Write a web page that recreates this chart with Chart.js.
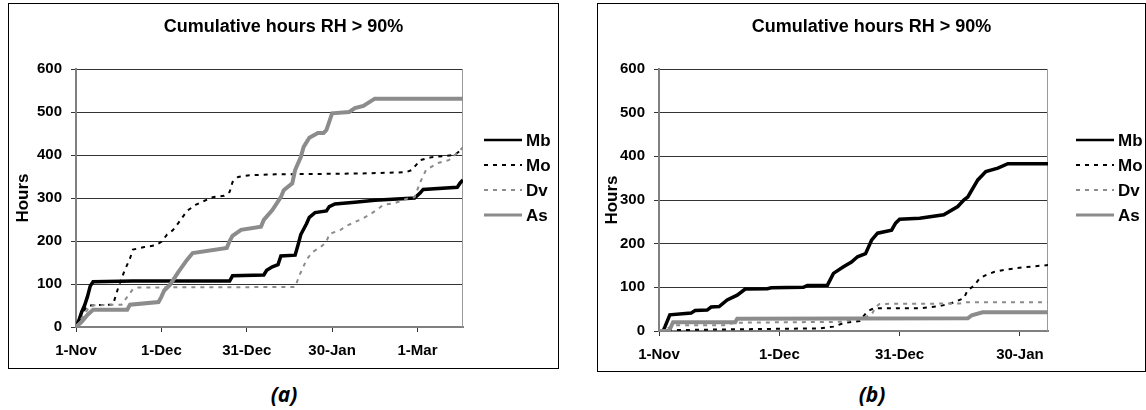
<!DOCTYPE html>
<html>
<head>
<meta charset="utf-8">
<script src="https://cdn.jsdelivr.net/npm/chart.js@4.4.1/dist/chart.umd.min.js"></script>
<style>
  body { margin: 0; background: #fff; width: 1146px; height: 410px; position: relative; overflow: hidden; }
  .frame { position: absolute; border: 1px solid #000; box-sizing: border-box; }
  #fa { left: 8px; top: 3px; width: 551px; height: 366px; }
  #fb { left: 597px; top: 3px; width: 549px; height: 369px; }
  .frame canvas { display: block; }
  .cap { position: absolute; top: 380px; width: 100px; text-align: center;
         font: italic bold 21px "Open Sans", "DejaVu Sans", sans-serif; color: #000; }
</style>
</head>
<body>
<div class="frame" id="fa"><canvas id="chartA" width="549" height="364"></canvas></div>
<div class="frame" id="fb"><canvas id="chartB" width="547" height="367"></canvas></div>
<div class="cap" style="left:234px">(a)</div>
<div class="cap" style="left:822px">(b)</div>
<script>
// ---- axis labels ----
var titleText = 'Cumulative hours RH > 90%';
var seriesNames = ['Mb', 'Mo', 'Dv', 'As'];
var tickDaysA = [0, 30, 60, 90, 120];
var tickLabelsA = ['1-Nov', '1-Dec', '31-Dec', '30-Jan', '1-Mar'];
var tickDaysB = [0, 30, 60, 90];
var tickLabelsB = ['1-Nov', '1-Dec', '31-Dec', '30-Jan'];

// ---- chart (a): days since 1-Nov / cumulative hours ----
var mbDaysA  = [0, 1, 2, 3, 4, 5, 6, 20, 54, 55, 66, 67, 69, 71, 72, 77, 78, 79, 81, 82, 84, 88, 89, 91, 98, 105, 119, 121, 122, 134, 135, 136];
var mbHoursA = [0, 15, 35, 50, 70, 95, 105, 107, 107, 119, 121, 132, 140, 145, 165, 167, 190, 215, 240, 255, 266, 270, 280, 286, 290, 295, 300, 312, 320, 325, 335, 342];

var moDaysA  = [0, 2, 4, 13, 15, 17, 19, 20, 24, 28, 30, 32, 34, 36, 39, 42, 45, 48, 52, 54, 55, 57, 61, 70, 100, 116, 118, 121, 125, 133, 135, 136];
var moHoursA = [0, 30, 50, 52, 95, 130, 160, 180, 186, 190, 198, 215, 225, 242, 270, 284, 293, 302, 305, 314, 337, 349, 353, 355, 357, 360, 365, 388, 395, 400, 410, 412];

var dvDaysA  = [0, 3, 5, 16, 18, 20, 22, 77, 78.5, 81, 83, 86, 88, 89, 93, 95, 98, 101, 104, 106, 108, 112, 117, 119, 121, 123, 127, 131, 134, 136];
var dvHoursA = [0, 30, 50, 52, 70, 88, 92, 93, 120, 156, 174, 186, 198, 216, 226, 235, 244, 253, 265, 274, 284, 288, 300, 302, 337, 365, 381, 388, 405, 418];

var asDaysA  = [0, 2, 4, 6, 18, 19, 29, 30, 31, 33, 36, 39, 41, 53, 54, 55, 58, 65, 66, 69, 72, 73, 76, 77, 79, 80, 82, 85, 87, 88, 90, 96, 98, 101, 105, 136];
var asHoursA = [0, 12, 28, 40, 40, 52, 58, 70, 85, 98, 128, 156, 172, 184, 200, 212, 226, 233, 249, 272, 302, 318, 334, 365, 395, 419, 440, 451, 451, 458, 497, 500, 509, 514, 531, 531];

// ---- chart (b) ----
var mbDaysB  = [0, 1, 1.5, 2.7, 8, 9, 12, 13, 15, 17, 19.5, 21.5, 27, 28, 36, 37, 42, 43.5, 46, 48, 49.5, 51.5, 53, 54.5, 58, 59, 60, 65, 71, 74.5, 76, 77, 79.5, 81.5, 84.5, 87, 97];
var mbHoursB = [0, 0, 10, 37, 41, 47, 48, 55, 56, 71, 82, 96, 97, 99, 100, 104, 105, 132, 147, 158, 170, 177, 208, 224, 231, 247, 256, 258, 266, 285, 300, 307, 346, 365, 373, 383, 383];

var moDaysB  = [0, 3, 20, 40, 43.5, 46, 50, 52, 53.5, 65, 70, 73, 76, 77, 78.5, 80, 81.5, 83.5, 86, 91, 97];
var moHoursB = [0, 2, 4, 6, 10, 18, 23, 45, 52, 52, 57, 64, 75, 94, 103, 121, 128, 135, 140, 146, 151];

var dvDaysB  = [0, 2, 4.5, 16, 19, 45, 50, 53, 54, 55, 75, 76.5, 97];
var dvHoursB = [0, 6, 13, 13, 19, 21, 28, 37, 55, 62, 63, 66, 66];

var asDaysB  = [0, 2.5, 3.5, 19, 19.5, 77, 78, 80.7, 97];
var asHoursB = [0, 0, 20, 20, 28, 29, 36, 43, 43];

function pts(days, hours) {
  return days.map(function(d, i) { return { x: d, y: hours[i] }; });
}

// title, legend and right plot edge
var decor = {
  id: 'decor',
  beforeDatasetsDraw: function(chart) {
    var a = chart.chartArea, ctx = chart.ctx;
    ctx.save();
    ctx.strokeStyle = '#9a9a9a';
    ctx.lineWidth = 1;
    ctx.beginPath();
    ctx.moveTo(a.right - 0.5, a.top);
    ctx.lineTo(a.right - 0.5, a.bottom);
    ctx.stroke();
    ctx.restore();
  },
  afterDraw: function(chart, args, o) {
    var a = chart.chartArea, ctx = chart.ctx;
    ctx.save();
    ctx.fillStyle = '#000';
    ctx.font = 'bold 18px "Liberation Sans"';
    ctx.textAlign = 'center';
    ctx.textBaseline = 'middle';
    ctx.fillText(o.text, chart.width / 2, o.titleY);

    ctx.font = 'bold 17px "Liberation Sans"';
    ctx.textAlign = 'left';
    chart.data.datasets.forEach(function(ds, i) {
      var y = a.top + o.legendTop + i * o.legendStep;
      var x0 = a.right + o.legendX;
      ctx.save();
      ctx.strokeStyle = ds.borderColor;
      ctx.lineWidth = ds.legendWidth;
      ctx.setLineDash(ds.borderDash || []);
      ctx.beginPath();
      ctx.moveTo(x0, y);
      ctx.lineTo(x0 + 38, y);
      ctx.stroke();
      ctx.restore();
      ctx.fillText(ds.label, x0 + 42, y + 1);
    });
    ctx.restore();
  }
};

function makeChart(id, s, ax) {
  var gray = '#8c8c8c';
  var tickFont = { family: 'Liberation Sans', size: 15, weight: 'bold' };
  new Chart(document.getElementById(id).getContext('2d'), {
    type: 'line',
    data: {
      datasets: [{
        label: seriesNames[0], data: s[0], borderColor: '#000', borderWidth: 3.5, legendWidth: 2.5, order: 4
      }, {
        label: seriesNames[1], data: s[1], borderColor: '#000', borderWidth: 2, borderDash: [4, 5], legendWidth: 2, order: 3
      }, {
        label: seriesNames[2], data: s[2], borderColor: gray, borderWidth: 2, borderDash: [4, 5], legendWidth: 2, order: 2
      }, {
        label: seriesNames[3], data: s[3], borderColor: gray, borderWidth: 4, legendWidth: 3, order: 1
      }]
    },
    options: {
      responsive: false,
      animation: false,
      layout: { padding: { top: 65, right: ax.padRight, bottom: 0, left: 0 } },
      elements: { point: { radius: 0 }, line: { tension: 0, fill: false } },
      plugins: {
        legend: { display: false },
        tooltip: { enabled: false },
        decor: { text: titleText, titleY: 23, legendX: ax.legendX, legendTop: 71, legendStep: 25 }
      },
      scales: {
        x: {
          type: 'linear', min: 0, max: ax.maxDay,
          afterFit: function(sc) { sc.height = ax.xHeight; },
          afterBuildTicks: function(sc) { sc.ticks = ax.tickDays.map(function(v) { return { value: v }; }); },
          grid: { drawOnChartArea: false, tickLength: 5, color: '#333', lineWidth: 1 },
          border: { color: '#808080', width: 2 },
          ticks: {
            font: tickFont, color: '#000', padding: 10, maxRotation: 0, autoSkip: false,
            callback: function(v) { var i = ax.tickDays.indexOf(v); return i < 0 ? '' : ax.tickLabels[i]; }
          }
        },
        y: {
          min: 0, max: 600,
          afterFit: function(sc) { sc.width = ax.yWidth; },
          grid: { color: '#333', lineWidth: 1, tickLength: 5 },
          border: { color: '#808080', width: 2 },
          ticks: { stepSize: 100, font: tickFont, color: '#000', padding: 9 },
          title: {
            display: true, text: 'Hours', color: '#000',
            font: { family: 'Liberation Sans', size: 17, weight: 'bold' },
            padding: { top: 4, bottom: 0 }
          }
        }
      }
    },
    plugins: [decor]
  });
}

makeChart('chartA',
  [pts(mbDaysA, mbHoursA), pts(moDaysA, moHoursA), pts(dvDaysA, dvHoursA), pts(asDaysA, asHoursA)],
  { maxDay: 136, tickDays: tickDaysA, tickLabels: tickLabelsA, padRight: 95, xHeight: 41, yWidth: 67, legendX: 21 });

makeChart('chartB',
  [pts(mbDaysB, mbHoursB), pts(moDaysB, moHoursB), pts(dvDaysB, dvHoursB), pts(asDaysB, asHoursB)],
  { maxDay: 97, tickDays: tickDaysB, tickLabels: tickLabelsB, padRight: 97, xHeight: 40, yWidth: 61, legendX: 28 });
</script>
</body>
</html>
